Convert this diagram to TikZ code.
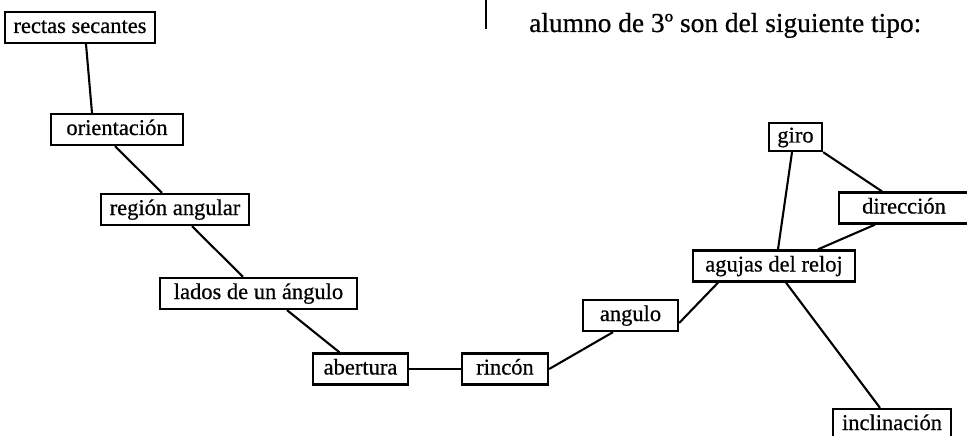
\documentclass[tikz,border=0pt]{standalone}
\usepackage{fontspec}
\setmainfont{Liberation Serif}
\newfontfamily\boxfont{Liberation Serif}[FakeBold=0.6]
\begin{document}
\begin{tikzpicture}[x=1pt,y=-1pt,
  box/.style={draw,line width=2.3pt,inner xsep=2pt,inner ysep=5pt,
    text height=16pt,text depth=5pt,font=\boxfont\fontsize{22.5}{24}\selectfont,
    minimum height=31pt,align=center},
  link/.style={line width=2.1pt}]
\useasboundingbox (0,0) rectangle (967,436);
\node[box,minimum width=150pt] (rs) at (80,27.5) {rectas secantes};
\node[box,minimum width=132pt] (ori) at (117,129.5) {orientación};
\node[box,minimum width=148pt] (reg) at (175,209.5) {región angular};
\node[box,minimum width=197pt] (lad) at (258.5,293.5) {lados de un ángulo};
\node[box,minimum width=95pt] (abe) at (360.5,369) {abertura};
\node[box,minimum width=86pt] (rin) at (505,369) {rincón};
\node[box,minimum width=95pt] (ang) at (630.5,315.5) {angulo};
\node[box,minimum width=162pt] (agu) at (774,266) {agujas del reloj};
\node[box,minimum width=53pt,minimum height=28pt,inner ysep=3.5pt] (gir) at (795.5,137) {giro};
\node[box,minimum width=130pt,minimum height=30pt] (dir) at (904,208) {dirección};
\node[box,minimum width=118pt] (inc) at (892,424.5) {inclinación};
% heading text
\node[anchor=base west,inner sep=0pt,font=\boxfont\fontsize{27.4}{30}\selectfont] (head) at (529,32) {alumno de 3º son del siguiente tipo:};
\coordinate (bartop) at (486,0);
\coordinate (barbot) at (486,29);
\draw[line width=2.1pt] (bartop) -- (barbot);
% connectors
\draw[link] ([xshift=6pt]rs.south) -- ([xshift=-25pt]ori.north);
\draw[link] ([xshift=-2pt]ori.south) -- ([xshift=-13pt]reg.north);
\draw[link] ([xshift=17pt]reg.south) -- ([xshift=-15.5pt]lad.north);
\draw[link] ([xshift=28.5pt]lad.south) -- ([xshift=-21pt]abe.north);
\draw[link] (abe.east) -- (rin.west);
\draw[link] (rin.east) -- ([xshift=-17.5pt]ang.south);
\draw[link] ([yshift=-7.5pt]ang.east) -- ([xshift=-56pt]agu.south);
\draw[link] ([xshift=12pt]agu.south) -- ([xshift=-12pt]inc.north);
\draw[link] ([xshift=-3.5pt]gir.south) -- ([xshift=4pt]agu.north);
\draw[link] (gir.south east) -- ([xshift=-22pt]dir.north);
\draw[link] ([xshift=-29pt]dir.south) -- ([xshift=44pt]agu.north);
\end{tikzpicture}
\end{document}
